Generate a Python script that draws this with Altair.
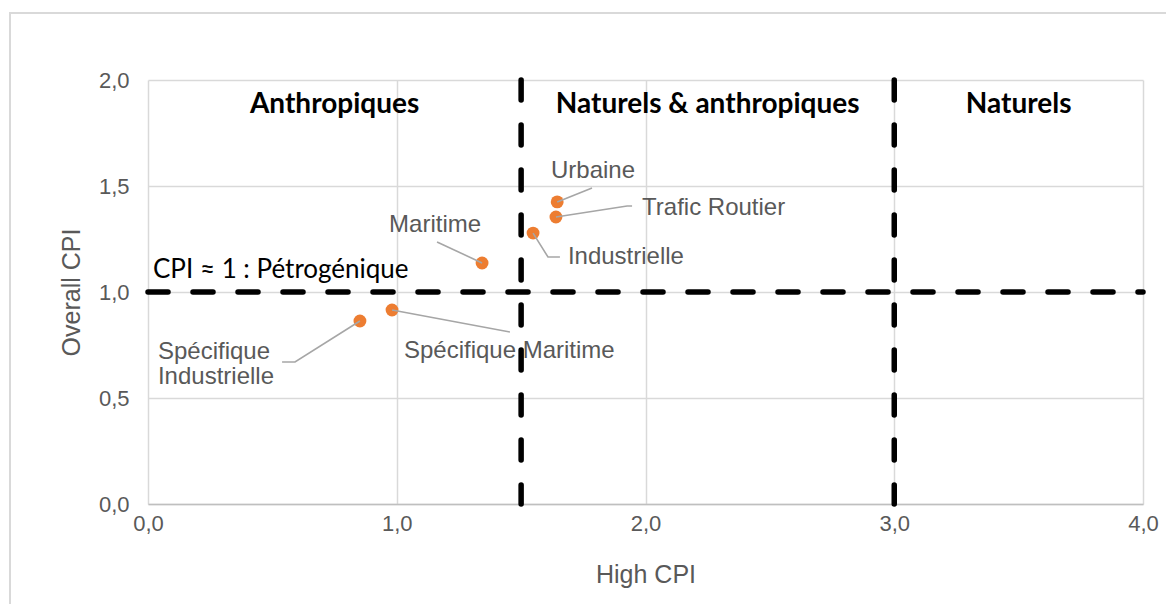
import altair as alt
import pandas as pd

# ---- data ----
sources = ["Urbaine", "Trafic Routier", "Industrielle", "Maritime",
           "Spécifique Maritime", "Spécifique\nIndustrielle"]
high_cpi = [1.645, 1.640, 1.548, 1.343, 0.981, 0.852]
overall_cpi = [1.425, 1.354, 1.278, 1.137, 0.915, 0.863]

# label anchors (data units) and alignment
label_x = [1.789, 1.986, 1.688, 1.154, 1.029, 0.040]
label_y = [1.571, 1.396, 1.165, 1.316, 0.722, 0.717]
label_align = ["center", "left", "left", "center", "left", "left"]

# leader line bend / end points (data units), after the dot itself
leader_x = [[1.785], [1.926, 1.946], [1.608, 1.656], [1.162], [1.455], [0.591, 0.539]]
leader_y = [[1.491], [1.406, 1.406], [1.165, 1.165], [1.236], [0.811], [0.670, 0.670]]

# zones
zone_names = ["Anthropiques", "Naturels & anthropiques", "Naturels"]
zone_x = [0.75, 2.25, 3.5]
zone_y = [1.88, 1.88, 1.88]
vertical_limits = [1.5, 3.0]
horizontal_limit = [1.0]
petro_label = "CPI ≈ 1 : Pétrogénique"
petro_x = [0.02]
petro_y = [1.104]

x_ticks = [0, 1, 2, 3, 4]
y_ticks = [0, 0.5, 1, 1.5, 2]

pts = pd.DataFrame({"src": sources, "x": high_cpi, "y": overall_cpi})
labels = pd.DataFrame({"src": sources, "lx": label_x, "ly": label_y, "al": label_align})

rows = []
for s, px, py, lxs, lys in zip(sources, high_cpi, overall_cpi, leader_x, leader_y):
    rows.append({"src": s, "seq": 0, "x": px, "y": py})
    for i, (a, b) in enumerate(zip(lxs, lys)):
        rows.append({"src": s, "seq": i + 1, "x": a, "y": b})
leaders = pd.DataFrame(rows)

zones = pd.DataFrame({"name": zone_names, "x": zone_x, "y": zone_y})
vlines = pd.DataFrame({"x": vertical_limits, "y": [2.0] * len(vertical_limits), "y2": [0.0] * len(vertical_limits)})
hlines = pd.DataFrame({"y": horizontal_limit, "x": [0.0], "x2": [4.0]})
petro = pd.DataFrame({"t": [petro_label], "x": petro_x, "y": petro_y})

fr = "replace(format(datum.value, '.1f'), '.', ',')"
xs = alt.Scale(domain=[0, 4], nice=False)
ys = alt.Scale(domain=[0, 2], nice=False)

X = alt.X("x:Q", scale=xs, title="High CPI",
          axis=alt.Axis(values=x_ticks, labelExpr=fr, grid=True, gridColor="#d9d9d9", gridWidth=1.5,
                        domain=True, domainColor="#bfbfbf", domainWidth=1.5, ticks=False,
                        labelFlush=False, labelOverlap=False,
                        labelFont="Liberation Sans", labelFontSize=22, labelColor="#595959",
                        labelPadding=9, titleFont="Liberation Sans", titleFontSize=25,
                        titleFontWeight="normal", titleColor="#595959", titlePadding=28))
Y = alt.Y("y:Q", scale=ys, title="Overall CPI",
          axis=alt.Axis(values=y_ticks, labelExpr=fr, grid=True, gridColor="#d9d9d9", gridWidth=1.5,
                        domain=False, ticks=False, labelFlush=False, labelOverlap=False,
                        labelFont="Liberation Sans", labelFontSize=22, labelColor="#595959",
                        labelPadding=19, titleFont="Liberation Sans", titleFontSize=25,
                        titleFontWeight="normal", titleColor="#595959", titlePadding=14))

border = alt.Chart(pd.DataFrame({"k": [0]})).mark_rect(
    fill=None, stroke="#d9d9d9", strokeWidth=2
).encode(x=alt.value(-138), x2=alt.value(1100), y=alt.value(-67), y2=alt.value(600))

vl = alt.Chart(vlines).mark_rule(color="black", strokeWidth=5.5, strokeDash=[20, 25], strokeCap="round").encode(
    x=alt.X("x:Q", scale=xs), y=alt.Y("y:Q", scale=ys), y2="y2:Q")
hl = alt.Chart(hlines).mark_rule(color="black", strokeWidth=5.5, strokeDash=[20, 25], strokeCap="round").encode(
    y=alt.Y("y:Q", scale=ys), x=alt.X("x:Q", scale=xs), x2="x2:Q")

lead = alt.Chart(leaders).mark_line(color="#a6a6a6", strokeWidth=1.6).encode(
    x=alt.X("x:Q", scale=xs), y=alt.Y("y:Q", scale=ys), detail="src:N", order="seq:Q")

dots = alt.Chart(pts).mark_circle(color="#ED7D31", opacity=1, size=165).encode(
    x=X, y=Y)

lab_c = alt.Chart(labels[labels.al == "center"]).mark_text(
    font="Liberation Sans", fontSize=24, color="#595959", align="center", baseline="middle", lineBreak="\n"
).encode(x=alt.X("lx:Q", scale=xs), y=alt.Y("ly:Q", scale=ys), text="src:N")
lab_l = alt.Chart(labels[labels.al == "left"]).mark_text(
    font="Liberation Sans", fontSize=24, color="#595959", align="left", baseline="middle", lineBreak="\n",
    lineHeight=25
).encode(x=alt.X("lx:Q", scale=xs), y=alt.Y("ly:Q", scale=ys), text="src:N")

zone_txt = alt.Chart(zones).mark_text(
    font="Lato", fontSize=28, fontWeight="bold", color="black", align="center", baseline="middle"
).encode(x=alt.X("x:Q", scale=xs), y=alt.Y("y:Q", scale=ys), text="name:N")

petro_txt = alt.Chart(petro).mark_text(
    font="Lato", fontSize=26, color="black", align="left", baseline="middle"
).encode(x=alt.X("x:Q", scale=xs), y=alt.Y("y:Q", scale=ys), text="t:N")

chart = alt.layer(border, dots, vl, hl, lead, lab_c, lab_l, zone_txt, petro_txt).properties(
    width=995, height=424,
    autosize=alt.AutoSizeParams(type="none"),
    padding={"left": 140, "top": 72, "right": 23, "bottom": 100},
).configure_view(stroke=None)

chart.save("out.html", embed_options={"renderer": "svg", "actions": False})
